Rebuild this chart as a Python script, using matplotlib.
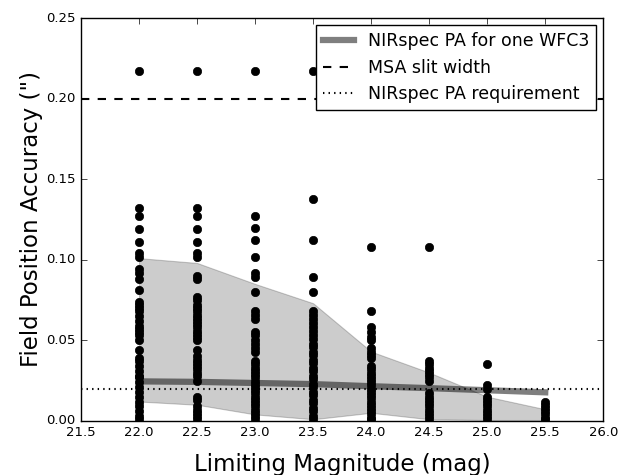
import matplotlib
matplotlib.use("Agg")
import matplotlib.pyplot as plt

plt.style.use("classic")

# valori: accuratezza (") per ogni magnitudine limite
mags = [22.0, 22.5, 23.0, 23.5, 24.0, 24.5, 25.0, 25.5]

acc_220 = [0.217, 0.132, 0.127, 0.119, 0.111, 0.104, 0.102, 0.094, 0.092, 0.088,
           0.081, 0.074, 0.072, 0.070, 0.068, 0.065, 0.062, 0.059, 0.057, 0.055,
           0.053, 0.050, 0.044, 0.039, 0.037, 0.034, 0.031, 0.028, 0.027, 0.024,
           0.021, 0.018, 0.015, 0.012, 0.009, 0.006, 0.003, 0.001]
acc_225 = [0.217, 0.132, 0.127, 0.119, 0.111, 0.104, 0.102, 0.090, 0.088, 0.077,
           0.075, 0.072, 0.070, 0.068, 0.066, 0.064, 0.062, 0.060, 0.058, 0.056,
           0.054, 0.052, 0.050, 0.044, 0.040, 0.038, 0.036, 0.034, 0.032, 0.030,
           0.028, 0.025, 0.015, 0.013, 0.009, 0.007, 0.005, 0.003, 0.001]
acc_230 = [0.217, 0.127, 0.1195, 0.112, 0.102, 0.092, 0.0895, 0.080, 0.068, 0.066,
           0.063, 0.055, 0.053, 0.050, 0.048, 0.045, 0.043, 0.037, 0.035, 0.033,
           0.031, 0.029, 0.027, 0.025, 0.023, 0.021, 0.019, 0.017, 0.015, 0.013,
           0.011, 0.009, 0.007, 0.005, 0.003, 0.001]
acc_235 = [0.217, 0.138, 0.112, 0.0895, 0.080, 0.068, 0.066, 0.063, 0.061, 0.058,
           0.056, 0.053, 0.051, 0.048, 0.046, 0.043, 0.041, 0.038, 0.036, 0.033,
           0.031, 0.028, 0.026, 0.023, 0.021, 0.018, 0.016, 0.013, 0.011, 0.008,
           0.006, 0.003, 0.001]
acc_240 = [0.217, 0.108, 0.068, 0.058, 0.055, 0.052, 0.050, 0.045, 0.043, 0.041,
           0.039, 0.034, 0.032, 0.030, 0.028, 0.026, 0.024, 0.022, 0.020, 0.018,
           0.016, 0.014, 0.012, 0.010, 0.008, 0.006, 0.004, 0.002, 0.001]
acc_245 = [0.217, 0.108, 0.037, 0.035, 0.033, 0.031, 0.029, 0.027, 0.025, 0.017,
           0.015, 0.013, 0.011, 0.009, 0.007, 0.005, 0.003, 0.001]
acc_250 = [0.0355, 0.0225, 0.020, 0.015, 0.013, 0.011, 0.009, 0.007, 0.005,
           0.003, 0.001]
acc_255 = [0.012, 0.010, 0.008, 0.006, 0.004, 0.002, 0.001]

# banda grigia e retta "NIRspec PA for one WFC3"
band_low = [0.012, 0.010, 0.004, 0.001, 0.005, 0.001, 0.0005, 0.0005]
band_high = [0.101, 0.098, 0.085, 0.073, 0.043, 0.030, 0.015, 0.0072]
pa_wfc3 = [0.0245, 0.0242, 0.0235, 0.0228, 0.0215, 0.0203, 0.0190, 0.0177]

slit_width = 0.20
pa_requirement = 0.02


def main():
    columns = [acc_220, acc_225, acc_230, acc_235, acc_240, acc_245, acc_250, acc_255]

    fig = plt.figure(figsize=(6.33, 4.75), dpi=100, facecolor="white")
    ax = fig.add_axes([0.128, 0.114, 0.825, 0.848])

    ax.fill_between(mags, band_low, band_high, color="k", alpha=0.2, lw=0.8)
    ax.plot(mags, pa_wfc3, color="k", alpha=0.5, lw=4.5,
            label="NIRspec PA for one WFC3")
    ax.axhline(slit_width, color="k", ls="--", lw=1.5, label="MSA slit width")
    ax.axhline(pa_requirement, color="k", ls=":", lw=1.5,
               label="NIRspec PA requirement")

    # punti neri per ogni colonna
    for m, vals in zip(mags, columns):
        ax.plot([m] * len(vals), vals, "o", color="k", ms=6, mec="k", zorder=3)

    ax.set_xlim(21.5, 26.0)
    ax.set_ylim(0.0, 0.25)
    ax.set_xticks([21.5, 22.0, 22.5, 23.0, 23.5, 24.0, 24.5, 25.0, 25.5, 26.0])
    ax.set_yticks([0.0, 0.05, 0.10, 0.15, 0.20, 0.25])
    ax.tick_params(labelsize=9.5, pad=4)
    ax.set_xlabel("Limiting Magnitude (mag)", fontsize=16.5, labelpad=10)
    ax.set_ylabel("Field Position Accuracy (\")", fontsize=16.5, labelpad=2)

    leg = ax.legend(loc="upper right", fontsize=12.5, handlelength=1.8,
                    numpoints=1, borderaxespad=0.4)
    leg.get_frame().set_edgecolor("k")

    fig.savefig("out.png", dpi=100, facecolor="white")


if __name__ == "__main__":
    main()
